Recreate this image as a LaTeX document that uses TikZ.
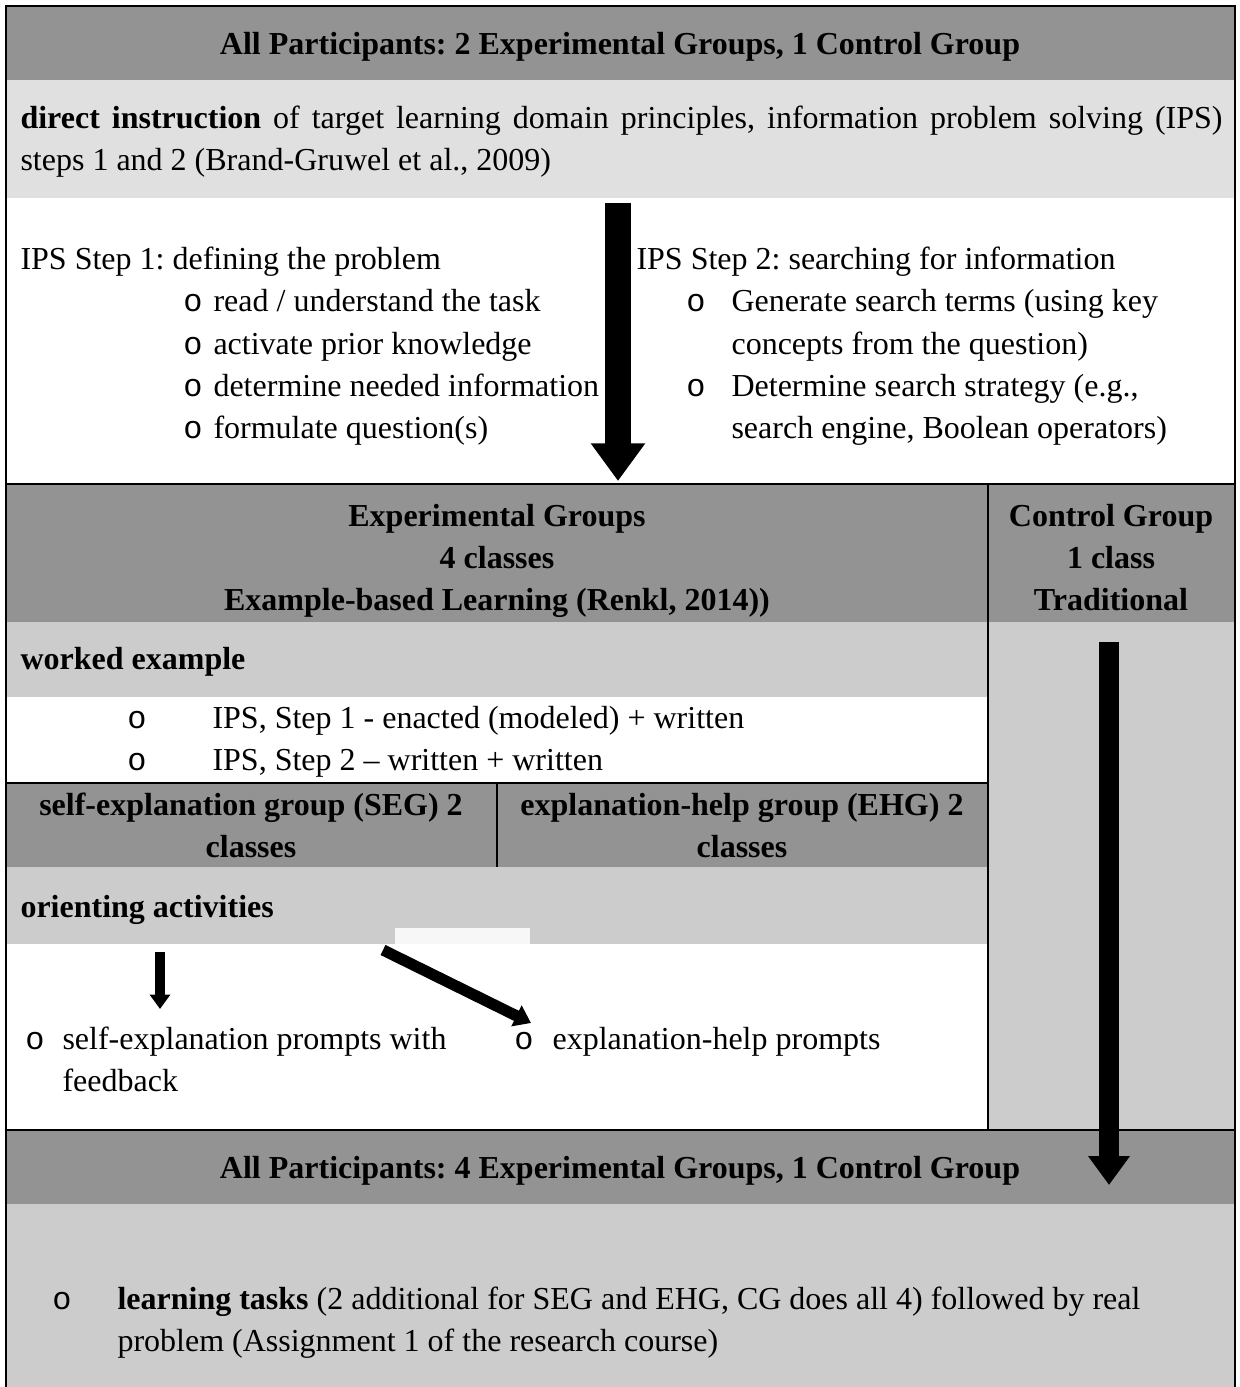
\documentclass[tikz,border=0pt]{standalone}
\usepackage{fontspec}
\setmainfont{Liberation Serif}
\setmonofont{Liberation Mono}
\usepackage{tikz}
\usetikzlibrary{arrows.meta,positioning}
\definecolor{hdrGray}{RGB}{147,147,147}
\definecolor{paleGray}{RGB}{224,224,224}
\definecolor{midGray}{RGB}{204,204,204}
\tikzset{
  txt/.style={anchor=base west, inner sep=0pt, font=\fontsize{12}{15.75}\selectfont},
  hdr/.style={anchor=base, inner sep=0pt, font=\fontsize{12}{15.75}\selectfont\bfseries},
  bul/.style={anchor=base, inner sep=0pt, font=\fontsize{12}{15.75}\selectfont\ttfamily},
  frame/.style={black, line width=1.1pt},
  rule/.style={black, line width=0.75pt},
  blockarrow/.style={line width=#1, -{Triangle[width=2*#1,length=1.45*#1]}}
}
\begin{document}
\frenchspacing
\begin{tikzpicture}[x=0.375pt,y=-0.375pt]
\useasboundingbox (0,0) rectangle (1240,1387);
\fill[hdrGray] (6,6) rectangle (1235,80);
\fill[paleGray] (6,80) rectangle (1235,198);
\fill[hdrGray] (6,484) rectangle (1235,622);
\fill[midGray] (988,622) rectangle (1235,1130);
\fill[midGray] (6,622) rectangle (988,697);
\fill[hdrGray] (6,783) rectangle (988,867);
\fill[midGray] (6,867) rectangle (988,944);
\fill[white!97!black] (395,928) rectangle (530,944);
\fill[hdrGray] (6,1130) rectangle (1235,1204);
\fill[midGray] (6,1204) rectangle (1235,1390);
\draw[frame] (6,1390) -- (6,6) -- (1235,6) -- (1235,1390);
\draw[frame] (6,484) -- (1235,484);
\draw[rule] (6,783) -- (988,783);
\draw[frame] (6,1130) -- (1235,1130);
\draw[rule] (988,484) -- (988,1130);
\draw[rule] (497,783) -- (497,867);

\node[hdr] (allTop) at (620,55) {All Participants: 2 Experimental Groups, 1 Control Group};
\node[txt] (instrA) at (20,129) {\makebox[450.75pt][s]{\textbf{direct instruction} of target learning domain principles, information problem solving (IPS)}};
\node[txt] (instrB) at (20,171) {steps 1 and 2 (Brand-Gruwel et al., 2009)};

\node[txt] (stepOne) at (20,270) {IPS Step 1: defining the problem};
\node[bul] (oA) at (193,312) {o};
\node[txt] (stepOneA) at (213,312) {read / understand the task};
\node[bul] (oB) at (193,354) {o};
\node[txt] (stepOneB) at (213,354) {activate prior knowledge};
\node[bul] (oC) at (193,396) {o};
\node[txt] (stepOneC) at (213,396) {determine needed information};
\node[bul] (oD) at (193,438) {o};
\node[txt] (stepOneD) at (213,438) {formulate question(s)};

\node[txt] (stepTwo) at (636,270) {IPS Step 2: searching for information};
\node[bul] (oE) at (696,312) {o};
\node[txt] (stepTwoA) at (731,312) {Generate search terms (using key};
\node[txt] (stepTwoAb) at (731,354) {concepts from the question)};
\node[bul] (oF) at (696,396) {o};
\node[txt] (stepTwoB) at (731,396) {Determine search strategy (e.g.,};
\node[txt] (stepTwoBb) at (731,438) {search engine, Boolean operators)};

\coordinate (ipsTop) at (618,203);
\coordinate (ipsTip) at (618,481);
\draw[blockarrow=9.75pt] (ipsTop) -- (ipsTip);

\node[hdr] (expA) at (497,526) {Experimental Groups};
\node[hdr] (expB) at (497,568) {4 classes};
\node[hdr] (expC) at (497,610) {Example-based Learning (Renkl, 2014))};
\node[hdr] (ctrlA) at (1111,526) {Control Group};
\node[hdr] (ctrlB) at (1111,568) {1 class};
\node[hdr] (ctrlC) at (1111,610) {Traditional};

\node[txt, font=\fontsize{12}{15.75}\selectfont\bfseries] (worked) at (20,669) {worked example};
\node[bul] (oG) at (137,728) {o};
\node[txt] (workedA) at (212,728) {IPS, Step 1 - enacted (modeled) + written};
\node[bul] (oH) at (137,770) {o};
\node[txt] (workedB) at (212,770) {IPS, Step 2 -- written + written};

\node[hdr] (segA) at (251,815) {self-explanation group (SEG) 2};
\node[hdr] (segB) at (251,857) {classes};
\node[hdr] (ehgA) at (742,815) {explanation-help group (EHG) 2};
\node[hdr] (ehgB) at (742,857) {classes};

\node[txt, font=\fontsize{12}{15.75}\selectfont\bfseries] (orient) at (20,917) {orienting activities};
\node[bul] (oI) at (35,1049) {o};
\node[txt] (segPromptA) at (62,1049) {self-explanation prompts with};
\node[txt] (segPromptB) at (62,1091) {feedback};
\node[bul] (oJ) at (524,1049) {o};
\node[txt] (ehgPrompt) at (552,1049) {explanation-help prompts};

\coordinate (segTop) at (160,952);
\coordinate (segTip) at (160,1009);
\draw[blockarrow=3.75pt] (segTop) -- (segTip);
\coordinate (ehgTop) at (383,950);
\coordinate (ehgTip) at (531,1023);
\draw[blockarrow=4.2pt] (ehgTop) -- (ehgTip);

\coordinate (ctrlTop) at (1109,642);
\coordinate (ctrlTip) at (1109,1185);
\draw[blockarrow=7.5pt] (ctrlTop) -- (ctrlTip);

\node[hdr] (allBot) at (620,1178) {All Participants: 4 Experimental Groups, 1 Control Group};
\node[bul] (oK) at (62,1309) {o};
\node[txt] (tasksA) at (117,1309) {\textbf{learning tasks} (2 additional for SEG and EHG, CG does all 4) followed by real};
\node[txt] (tasksB) at (117,1351) {problem (Assignment 1 of the research course)};
\end{tikzpicture}
\end{document}
